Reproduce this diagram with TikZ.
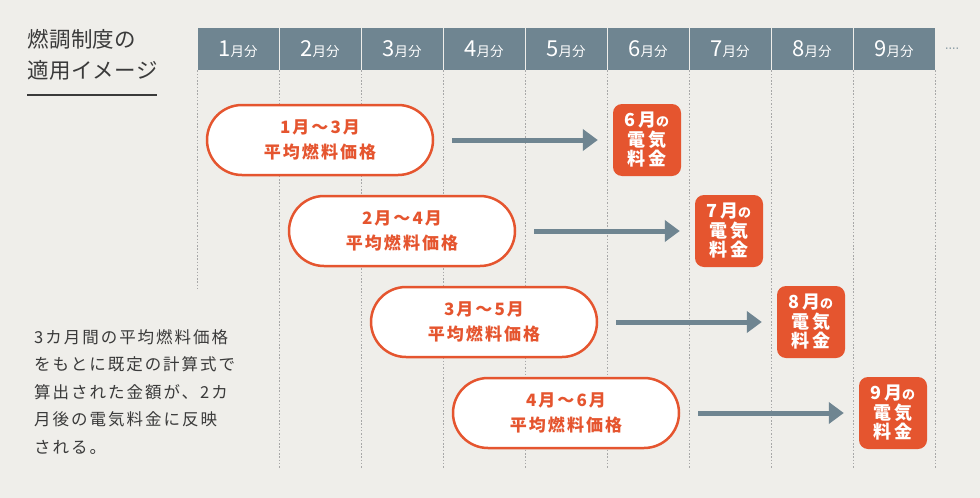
\documentclass[tikz,border=0pt]{standalone}
\usepackage{fontspec}
\usetikzlibrary{arrows.meta}
\newfontfamily\jp{Noto Sans CJK JP}
\newfontfamily\jptitle{Noto Sans CJK JP}[LetterSpace=2]
\newfontfamily\jpls{Noto Sans CJK JP}[LetterSpace=12]
\newfontfamily\jpmid{Noto Sans CJK JP}[LetterSpace=12]
\newfontfamily\dv{DejaVu Sans}
\definecolor{bgc}{HTML}{EFEEEA}
\definecolor{hdrc}{HTML}{6F8591}
\definecolor{orc}{HTML}{E5552F}
\definecolor{txc}{HTML}{3A3A3A}
\definecolor{gridc}{HTML}{A8A8A8}
\tikzset{
  hdr/.style={fill=hdrc, text=white, minimum width=81pt, minimum height=42pt, inner sep=0pt, font=\jp},
  gridline/.style={draw=gridc, line width=1.2pt, dash pattern=on 1.5pt off 1.8pt},
  pill/.style={draw=orc, line width=2.5pt, fill=white, rounded corners=35pt, minimum width=226pt, minimum height=70pt, text=orc, align=center, inner sep=0pt, font=\jpmid\bfseries\fontsize{17}{25}\selectfont},
  billbox/.style={fill=orc, rounded corners=9pt, minimum width=68pt, minimum height=72pt, text=white, align=center, inner sep=0pt, font=\jpmid\bfseries\fontsize{18}{19.5}\selectfont},
  flow/.style={draw=hdrc, line width=5pt, -{Triangle[length=15pt,width=21pt]}, shorten <=18pt, shorten >=15pt}
}
\begin{document}
\begin{tikzpicture}[x=1pt,y=-1pt]
\fill[bgc] (0,0) rectangle (980,498);
\useasboundingbox (0,0) rectangle (980,498);
% title
\node[anchor=north west, inner sep=0pt, align=left, text=txc, font=\jptitle\fontsize{21.5}{31}\selectfont] (title) at (27,29) {燃調制度の\\適用イメージ};
\draw[txc, line width=1.3pt] (27,95) -- (157,95);
% header
\foreach \i in {1,...,9}{
  \node[hdr] (h\i) at ({238+82*(\i-1)},49) {{\fontsize{22}{22}\selectfont \i}{\fontsize{13.5}{13.5}\selectfont 月分}};
}
\node[text=hdrc, inner sep=0pt, font=\dv\fontsize{11}{11}\selectfont] (dots) at (952,50) {····};
% grid lines
\draw[gridline] (h1.south west) -- ++(0,218);
\foreach \i in {1,...,9}{
  \draw[gridline] (h\i.south east) ++(0.5,0) -- ++(0,398);
}
% rows
\foreach \k/\a/\b/\c in {0/1/3/6,1/2/4/7,2/3/5/8,3/4/6/9}{
  \node[pill] (p\k) at ({320+82*\k},{140+91*\k}) {\a 月～\b 月\\平均燃料価格};
  \node[billbox] (b\k) at ({647+82*\k},{140+91*\k}) {\c 月{\fontsize{13}{13}\selectfont の}\\電気\\料金};
  \draw[flow] (p\k.east) -- (b\k.west);
}
% explanation
\node[anchor=north west, inner sep=0pt, align=left, text=txc, font=\jpls\fontsize{16.5}{27.5}\selectfont] (expl) at (34,329) {3カ月間の平均燃料価格\\をもとに既定の計算式で\\算出された金額が、2カ\\月後の電気料金に反映\\される。};
\end{tikzpicture}
\end{document}
